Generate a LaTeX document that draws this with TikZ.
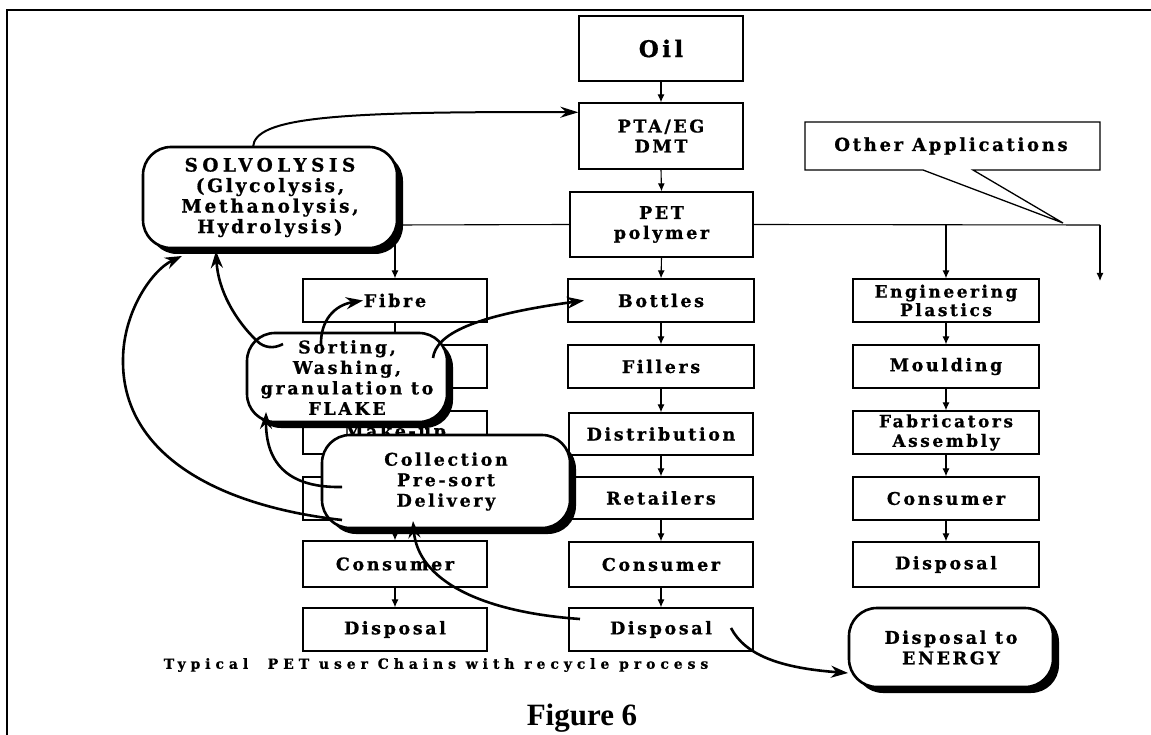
\documentclass[tikz,border=0pt]{standalone}
\usepackage{fontspec}
\usetikzlibrary{arrows.meta,shadows}
\newfontfamily\boxfont[LetterSpace=15,FakeBold=0.8]{DejaVu Serif}
\newfontfamily\capfont[LetterSpace=35,FakeBold=0.8]{DejaVu Serif}
\newfontfamily\figfont{Liberation Serif}
\newcommand\bxf[2]{\boxfont\bfseries\fontsize{#1}{#2}\selectfont}
\begin{document}
\begin{tikzpicture}[x=1pt,y=-1pt,
  box/.style={draw, line width=1.3pt, fill=white, minimum width=184pt,
    minimum height=43pt, inner sep=0pt, align=center, font={\bxf{17.5}{20}}},
  flow/.style={line width=1.1pt, -{Latex[length=8pt,width=7pt]}},
  plain/.style={line width=1.1pt},
  rbox/.style={draw, line width=2.6pt, fill=white, rounded corners=28pt,
    inner sep=0pt, align=center, font={\bxf{17.5}{20.5}},
    drop shadow={shadow xshift=6pt, shadow yshift=-6pt, fill=black, opacity=1}},
  loop/.style={line width=2.6pt, -{Stealth[length=17pt,width=12pt]}}]
\useasboundingbox (0,0) rectangle (1151,735);
\fill[white] (0,0) rectangle (1151,735);

% frame
\draw[line width=2pt] (7,735) -- (7,10) -- (1151,10);

% centre chain
\node[box, minimum width=164pt, minimum height=65pt, font={\bxf{23}{26}}] (oil) at (661,48.5) {Oil};
\node[box, minimum width=164pt, minimum height=66pt] (pta) at (661,136) {PTA/EG\\DMT};
\node[box, minimum width=183pt, minimum height=65pt] (pet) at (661.5,224.5) {PET\\polymer};
\node[box, minimum width=186pt] (bottles) at (661,300.5) {Bottles};
\node[box, minimum width=186pt] (fillers) at (661,366.5) {Fillers};
\node[box, minimum height=42pt] (distrib) at (661,434) {Distribution};
\node[box, minimum height=42pt] (retail) at (661,498) {Retailers};
\node[box, minimum height=45pt] (consC) at (661,564.5) {Consumer};
\node[box] (dispC) at (661,629.5) {Disposal};

% right chain
\node[box, minimum width=186pt, font={\bxf{17}{18.5}}] (eng) at (946,300.5) {Engineering\\Plastics};
\node[box, minimum width=186pt] (mould) at (946,366.5) {Moulding};
\node[box, minimum width=186pt, font={\bxf{17}{19.5}}] (fab) at (946,432.5) {Fabricators\\Assembly};
\node[box, minimum width=186pt] (consR) at (946,498.5) {Consumer};
\node[box, minimum width=186pt, minimum height=45pt] (dispR) at (946,564.5) {Disposal};

% left chain
\node[box] (fibre) at (395,300.5) {Fibre};
\node[box] (left2) at (395,366.5) {};
\node[box] (makeup) at (395,432.5) {Make-up};
\node[box] (left4) at (395,498.5) {};
\node[box, minimum height=46pt] (consL) at (395,564) {Consumer};
\node[box] (dispL) at (395,629.5) {Disposal};

% other applications callout
\draw[line width=1.3pt, fill=white] (805,122) -- (1100,122) -- (1100,170) -- (973,170)
  -- (1063,223) -- (923,170) -- (805,170) -- cycle;
\node[font={\bxf{18}{20}}] (other) at (951,146) {Other Applications};

% split below the polymer
\coordinate (jl) at (395,225);
\coordinate (jm) at (946,225);
\coordinate (jr) at (1100,225);
\coordinate (tail) at (1100,281);
\draw[plain] (pet.west) -- (jl);
\draw[plain] (pet.east) -- (jr);
\draw[flow] (jr) -- (tail);
\draw[flow] (jm) -- (eng.north);
\draw[flow] (jl) -- (fibre.north);

% arrows down each chain
\foreach \a/\b in {oil/pta, pta/pet, pet/bottles, bottles/fillers, fillers/distrib,
  distrib/retail, retail/consC, consC/dispC, eng/mould, mould/fab, fab/consR,
  consR/dispR, fibre/left2, left2/makeup, makeup/left4, left4/consL, consL/dispL}
  \draw[flow] (\a.south) -- (\b.north);

% recycling stages
\node[rbox, minimum width=254pt, minimum height=101pt, font={\bxf{18.5}{20.5}}] (solv) at (270,197.5)
  {{\addfontfeature{LetterSpace=24}SOLVOLYSIS}\\(Glycolysis,\\Methanolysis,\\Hydrolysis)};
\node[rbox, minimum width=200pt, minimum height=89pt] (sort) at (347,377.5)
  {Sorting,\\Washing,\\granulation to\\FLAKE};
\node[rbox, minimum width=248pt, minimum height=93pt] (coll) at (446,481.5)
  {Collection\\Pre-sort\\Delivery};
\node[rbox, minimum width=204pt, minimum height=79pt] (energy) at (951,647.5)
  {Disposal to\\ENERGY};

% recycle loops
\coordinate (solvTop) at (253,147);
\coordinate (solvB1) at (216,251);
\coordinate (solvB2) at (182,256);
\coordinate (sortHook) at (283,344);
\coordinate (sortTop) at (321,346);
\coordinate (sortRight) at (433,358);
\coordinate (sortB) at (266,412);
\coordinate (collA) at (342,487);
\coordinate (collB) at (342,520);
\coordinate (collBot) at (413,521);
\coordinate (dispOut1) at (580,619);
\coordinate (dispOut2) at (731,628);
\coordinate (energyIn) at (848,673);

\draw[line width=2pt, -{Stealth[length=18pt,width=11pt]}] (solvTop)
  .. controls (255,118) and (330,111) .. (pta.164);
\draw[loop] (sortHook) .. controls (274,349) and (264,348) .. (257,341)
  .. controls (235,320) and (218,290) .. (solvB1);
\draw[loop] (sortTop) .. controls (320,320) and (335,305) .. (fibre.west -| 363,301);
\draw[loop] (sortRight) .. controls (436,335) and (470,316) .. (bottles.west -| 584,311);
\draw[loop] (collA) .. controls (290,488) and (266,465) .. (sortB);
\draw[loop] (collB) .. controls (210,505) and (122,450) .. (123,360)
  .. controls (123,312) and (152,270) .. (solvB2);
\draw[loop] (dispOut1) .. controls (480,612) and (418,580) .. (collBot);
\draw[loop] (dispOut2) .. controls (745,655) and (780,668) .. (energyIn);

% captions
\node[font={\capfont\bfseries\fontsize{14}{18}\selectfont}] (caption) at (436,665)
  {Typical\ \ PET user Chains with recycle process};
\node[font={\figfont\bfseries\fontsize{31}{36}\selectfont}] (fig) at (582,718) {Figure 6};
\end{tikzpicture}
\end{document}
